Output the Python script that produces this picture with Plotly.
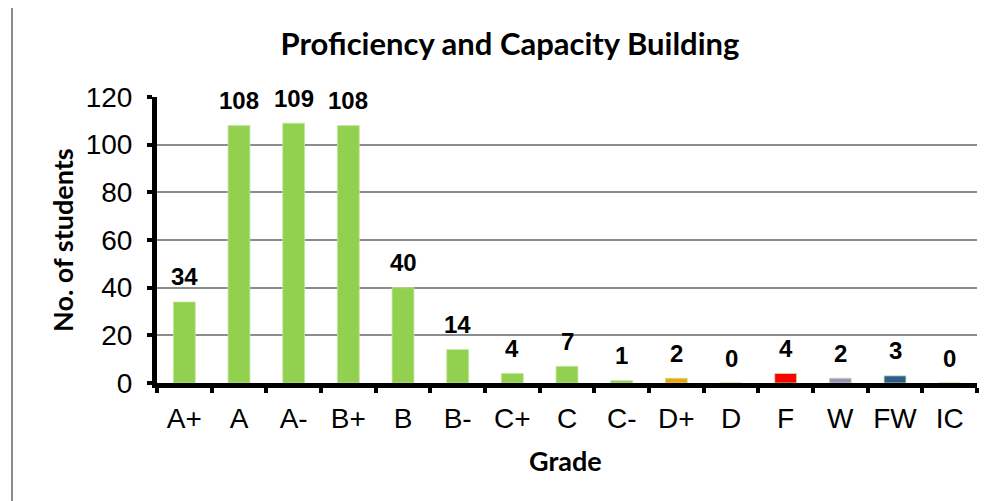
import plotly.graph_objects as go

# data
grades = ["A+", "A", "A-", "B+", "B", "B-", "C+", "C", "C-", "D+", "D", "F", "W", "FW", "IC"]
students = [34, 108, 109, 108, 40, 14, 4, 7, 1, 2, 0, 4, 2, 3, 0]
y_ticks = [0, 20, 40, 60, 80, 100, 120]

green = "#92D050"
bar_colors = [green] * 9 + ["#F0A30A", "#7F7F7F", "#FF0000", "#A08CC0", "#2F5A8E", "#4BACC6"]

# reference geometry (pixels); page body adds an 8px margin so the figure is shrunk by that much
W, H = 987, 501
L, R, T, B = 157, 977, 97, 383
OFF = 8


def px(x):
    return (x - L) / (R - L)


def py(y):
    return (B - y) / (B - T)


fig = go.Figure()
fig.add_trace(go.Bar(
    x=grades, y=students,
    marker=dict(color=bar_colors, line=dict(color="#C3E6A0", width=0.8)),
    width=0.4,
))

# data labels, sitting well above each bar like in the Excel original
for g, v in zip(grades, students):
    fig.add_annotation(x=g, y=v, text=str(v), showarrow=False, yanchor="middle", yshift=25,
                       font=dict(family="Liberation Sans", size=24, color="black", weight="bold"))

fig.update_layout(
    width=W - OFF, height=H - OFF,
    margin=dict(l=L - OFF, r=W - R, t=T - OFF, b=H - B, pad=0),
    paper_bgcolor="white", plot_bgcolor="white",
    showlegend=False,
    title=dict(text="<b>Proficiency and Capacity Building</b>", x=(510 - OFF) / (W - OFF),
               xanchor="center", y=1 - (44 - OFF) / (H - OFF), yanchor="middle",
               font=dict(family="Lato", size=31, color="black")),
)

fig.update_yaxes(
    range=[0, 120], tickvals=y_ticks,
    showline=True, linecolor="black", linewidth=5,
    ticks="outside", ticklen=5, tickwidth=4, tickcolor="black",
    showgrid=True, gridcolor="#8C8C8C", gridwidth=1.5, zeroline=False,
    tickfont=dict(family="Liberation Sans", size=28, color="black"),
    ticklabelstandoff=9,
)
fig.update_xaxes(
    showline=True, linecolor="black", linewidth=5,
    ticks="outside", tickson="boundaries", ticklen=5, tickwidth=4, tickcolor="black",
    tickfont=dict(family="Liberation Sans", size=28, color="black"),
    tickangle=0, ticklabelstandoff=6,
)

# axis titles
fig.add_annotation(x=px(62), y=py(240), xref="paper", yref="paper", text="<b>No. of students</b>",
                   xanchor="center", yanchor="middle", textangle=-90, showarrow=False,
                   font=dict(family="Lato", size=27, color="black"))
fig.add_annotation(x=px(565), y=py(460), xref="paper", yref="paper", text="<b>Grade</b>",
                   xanchor="center", yanchor="middle", showarrow=False,
                   font=dict(family="Lato", size=27, color="black"))

# chart border
fig.add_shape(type="rect", xref="paper", yref="paper",
              x0=px(12), y0=py(3), x1=px(1010), y1=py(520),
              line=dict(color="#8C8C8C", width=2), layer="below")

fig.write_html("out.html")
